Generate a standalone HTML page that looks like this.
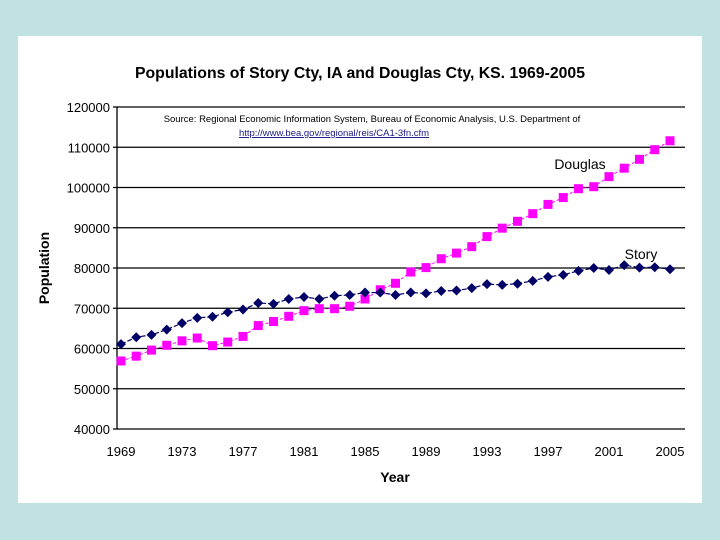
<!DOCTYPE html>
<html><head><meta charset="utf-8"><style>
body{margin:0;background:#c0e2e3;width:720px;height:540px;overflow:hidden;font-family:"Liberation Sans",Arial,sans-serif}
#panel{position:absolute;left:18px;top:36px;width:684px;height:467px;background:#fff}
</style></head><body>
<div id="panel"></div>
<svg id="chart" width="720" height="540" style="position:absolute;left:0;top:0"></svg>
<script>
const years=[];for(let y=1969;y<=2005;y++)years.push(y);
const story=[61100,62800,63400,64700,66300,67600,67900,69000,69700,71300,71100,72300,72800,72300,73100,73300,73900,73900,73300,73900,73700,74300,74400,75000,76000,75800,76100,76800,77800,78300,79300,80000,79500,80700,80100,80200,79700];
const douglas=[56900,58100,59600,60800,61900,62600,60700,61600,63000,65700,66700,68000,69400,69900,69900,70500,72300,74600,76200,79000,80100,82300,83700,85300,87800,89900,91600,93500,95800,97500,99700,100200,102700,104800,107000,109400,111600];
const yTicks=[40000,50000,60000,70000,80000,90000,100000,110000,120000];
const xTicks=[1969,1973,1977,1981,1985,1989,1993,1997,2001,2005];
const X0=121,X1=670,Y0=429,Y1=107,L=117,R=685;
const sx=v=>X0+(v-1969)*(X1-X0)/36;
const sy=v=>Y0-(v-40000)*(Y0-Y1)/80000;
const svg=document.getElementById('chart');const NS='http://www.w3.org/2000/svg';
function el(t,a,txt){const e=document.createElementNS(NS,t);for(const k in a)e.setAttribute(k,a[k]);if(txt!=null)e.textContent=txt;svg.appendChild(e);return e;}
let e=el('text',{x:360,y:78,'text-anchor':'middle','font-size':15.8,'font-weight':'bold'},'Populations of Story Cty, IA and Douglas Cty, KS. 1969-2005');

yTicks.forEach(t=>{
 const g=el('line',{x1:L-4,x2:R,y1:sy(t),y2:sy(t),stroke:'#000','stroke-width':1.3});
 
 const l=el('text',{x:110,y:sy(t)+5,'text-anchor':'end','font-size':13},String(t));
 
});
e=el('line',{x1:L,x2:L,y1:Y1,y2:Y0,stroke:'#000','stroke-width':1.3});

xTicks.forEach(t=>{
 const l=el('text',{x:sx(t),y:456,'text-anchor':'middle','font-size':13},String(t));
 
});
e=el('text',{x:395,y:482,'text-anchor':'middle','font-size':14,'font-weight':'bold'},'Year');

e=el('text',{x:49,y:268,'text-anchor':'middle','font-size':14,'font-weight':'bold',transform:'rotate(-90 49 268)'},'Population');

e=el('text',{x:372,y:122,'text-anchor':'middle','font-size':9.5},'Source: Regional Economic Information System, Bureau of Economic Analysis, U.S. Department of');

e=el('text',{x:334,y:136,'text-anchor':'middle','font-size':9.5,fill:'#1a1a8a','text-decoration':'underline'},'http://www.bea.gov/regional/reis/CA1-3fn.cfm');

const pts=a=>a.map((v,i)=>sx(years[i])+','+sy(v)).join(' ');
e=el('polyline',{points:pts(douglas),fill:'none',stroke:'#ff00ff','stroke-width':1,'stroke-dasharray':'3,2'});

e=el('polyline',{points:pts(story),fill:'none',stroke:'#000066','stroke-width':1.2,'stroke-dasharray':'5,2'});

douglas.forEach((v,i)=>{
 const m=el('rect',{x:sx(years[i])-4.5,y:sy(v)-4.5,width:9,height:9,fill:'#ff00ff'});
 
});
story.forEach((v,i)=>{
 const x=sx(years[i]),y=sy(v);
 const m=el('polygon',{points:`${x},${y-5} ${x+5},${y} ${x},${y+5} ${x-5},${y}`,fill:'#000066'});
 
});
e=el('text',{x:580,y:169,'text-anchor':'middle','font-size':14},'Douglas');

e=el('text',{x:641,y:259,'text-anchor':'middle','font-size':14},'Story');

</script>
</body></html>
